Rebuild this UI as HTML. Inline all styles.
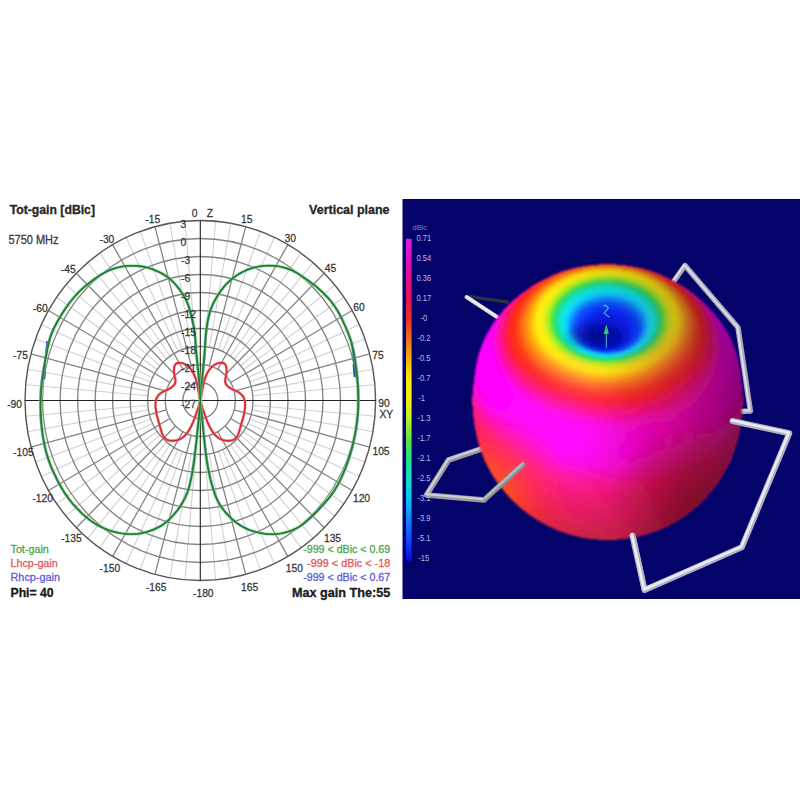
<!DOCTYPE html>
<html lang="en"><head><meta charset="utf-8"><title>Antenna radiation pattern</title>
<style>html,body{margin:0;padding:0;background:#fff}body{width:800px;height:800px;overflow:hidden}svg{display:block}</style></head>
<body>
<svg width="800" height="800" viewBox="0 0 800 800" style="display:block">
<defs><filter id="b1" x="-5%" y="-5%" width="110%" height="110%"><feGaussianBlur stdDeviation="1.3"/></filter>
<clipPath id="rimc"><ellipse cx="607.5" cy="320.5" rx="57.5" ry="42.0"/></clipPath>
<clipPath id="pan"><rect x="402.5" y="199" width="398" height="400"/></clipPath><clipPath id="sil"><ellipse cx="607.5" cy="502.7" rx="0.5" ry="0.3"/><ellipse cx="607.5" cy="502.3" rx="9.8" ry="6.8"/><ellipse cx="607.5" cy="501.6" rx="19.0" ry="13.1"/><ellipse cx="607.5" cy="500.5" rx="28.2" ry="19.5"/><ellipse cx="607.5" cy="498.8" rx="37.2" ry="25.7"/><ellipse cx="607.5" cy="496.7" rx="46.1" ry="31.8"/><ellipse cx="607.5" cy="494.1" rx="54.7" ry="37.8"/><ellipse cx="607.5" cy="491.1" rx="63.1" ry="43.5"/><ellipse cx="607.5" cy="487.7" rx="71.2" ry="49.1"/><ellipse cx="607.5" cy="483.9" rx="79.0" ry="54.5"/><ellipse cx="607.5" cy="479.7" rx="86.4" ry="59.6"/><ellipse cx="607.5" cy="475.2" rx="93.4" ry="64.4"/><ellipse cx="607.5" cy="470.3" rx="100.0" ry="69.0"/><ellipse cx="607.5" cy="465.1" rx="106.1" ry="73.2"/><ellipse cx="607.5" cy="459.5" rx="111.6" ry="77.0"/><ellipse cx="607.5" cy="453.7" rx="116.6" ry="80.5"/><ellipse cx="607.5" cy="447.6" rx="121.0" ry="83.5"/><ellipse cx="607.5" cy="441.3" rx="125.0" ry="86.2"/><ellipse cx="607.5" cy="434.8" rx="128.1" ry="88.4"/><ellipse cx="607.5" cy="428.1" rx="130.5" ry="90.0"/><ellipse cx="607.5" cy="421.3" rx="132.3" ry="91.3"/><ellipse cx="607.5" cy="414.5" rx="133.5" ry="92.1"/><ellipse cx="607.5" cy="407.6" rx="134.5" ry="92.8"/><ellipse cx="607.5" cy="400.7" rx="134.8" ry="93.0"/><ellipse cx="607.5" cy="394.1" rx="134.3" ry="93.0"/><ellipse cx="607.5" cy="387.4" rx="133.6" ry="92.7"/><ellipse cx="607.5" cy="380.8" rx="132.7" ry="92.4"/><ellipse cx="607.5" cy="374.2" rx="131.6" ry="91.9"/><ellipse cx="607.5" cy="367.8" rx="129.3" ry="90.6"/><ellipse cx="607.5" cy="361.5" rx="126.0" ry="88.6"/><ellipse cx="607.5" cy="355.6" rx="121.9" ry="86.0"/><ellipse cx="607.5" cy="350.0" rx="116.8" ry="82.7"/><ellipse cx="607.5" cy="344.6" rx="111.1" ry="78.9"/><ellipse cx="607.5" cy="339.4" rx="105.0" ry="74.7"/><ellipse cx="607.5" cy="334.6" rx="98.3" ry="70.0"/><ellipse cx="607.5" cy="330.2" rx="91.1" ry="65.1"/><ellipse cx="607.5" cy="326.2" rx="83.5" ry="59.8"/><ellipse cx="607.5" cy="323.3" rx="75.2" ry="54.1"/><ellipse cx="607.5" cy="321.3" rx="66.2" ry="47.9"/><ellipse cx="607.5" cy="320.5" rx="57.0" ry="41.5"/></clipPath><linearGradient id="cb" x1="0" y1="0" x2="0" y2="1"><stop offset="0.0000" stop-color="#d81ee8"/><stop offset="0.0625" stop-color="#e010c0"/><stop offset="0.1250" stop-color="#e80c84"/><stop offset="0.1875" stop-color="#ea1052"/><stop offset="0.2500" stop-color="#e83020"/><stop offset="0.3125" stop-color="#f0701a"/><stop offset="0.3750" stop-color="#f8b012"/><stop offset="0.4375" stop-color="#ffe80a"/><stop offset="0.5000" stop-color="#f0f210"/><stop offset="0.5625" stop-color="#b8f022"/><stop offset="0.6250" stop-color="#5ce444"/><stop offset="0.6875" stop-color="#22e088"/><stop offset="0.7500" stop-color="#10dcc8"/><stop offset="0.8125" stop-color="#10bcf4"/><stop offset="0.8750" stop-color="#1080ff"/><stop offset="0.9375" stop-color="#1044ff"/><stop offset="1.0000" stop-color="#0a0ae0"/></linearGradient><radialGradient id="hl" cx="556" cy="428" r="85" gradientUnits="userSpaceOnUse"><stop offset="0" stop-color="#ff30ff" stop-opacity="0.35"/><stop offset="1" stop-color="#ff30ff" stop-opacity="0"/></radialGradient>
<radialGradient id="sh" cx="480" cy="388" r="270" gradientUnits="userSpaceOnUse"><stop offset="0" stop-color="#200028" stop-opacity="0"/><stop offset="0.42" stop-color="#200028" stop-opacity="0"/><stop offset="0.6" stop-color="#200028" stop-opacity="0.08"/><stop offset="0.75" stop-color="#200028" stop-opacity="0.2"/><stop offset="0.9" stop-color="#200028" stop-opacity="0.4"/><stop offset="1" stop-color="#200028" stop-opacity="0.56"/></radialGradient>
<radialGradient id="cr" cx="705" cy="440" r="125" gradientUnits="userSpaceOnUse"><stop offset="0" stop-color="#e81048" stop-opacity="0.55"/><stop offset="0.5" stop-color="#e81050" stop-opacity="0.35"/><stop offset="1" stop-color="#e81060" stop-opacity="0"/></radialGradient>
<radialGradient id="og" cx="478" cy="497" r="92" gradientUnits="userSpaceOnUse"><stop offset="0" stop-color="#ff6212" stop-opacity="0.95"/><stop offset="0.38" stop-color="#ff5014" stop-opacity="0.8"/><stop offset="0.7" stop-color="#ff3820" stop-opacity="0.35"/><stop offset="1" stop-color="#ff2830" stop-opacity="0"/></radialGradient>
<radialGradient id="dr" cx="695" cy="508" r="85" gradientUnits="userSpaceOnUse"><stop offset="0" stop-color="#a01008" stop-opacity="0.65"/><stop offset="0.5" stop-color="#a81010" stop-opacity="0.4"/><stop offset="1" stop-color="#b01018" stop-opacity="0"/></radialGradient>
<radialGradient id="dk" cx=".5" cy=".5" r=".5"><stop offset="0" stop-color="#060668" stop-opacity="0.72"/><stop offset="0.5" stop-color="#060668" stop-opacity="0.42"/><stop offset="1" stop-color="#060668" stop-opacity="0"/></radialGradient>
<filter id="b04" x="0" y="0" width="100%" height="100%" filterUnits="userSpaceOnUse"><feGaussianBlur stdDeviation="0.4"/></filter></defs>
<rect width="800" height="800" fill="#fff"/>
<g id="polar" fill="none" filter="url(#b04)">
<path d="M204.9 346.7L215.6 221.2M209.4 347.3L230.7 223.2M218.3 349.8L260.3 231.4M222.5 351.6L274.4 237.4M230.5 356.3L300.8 253.1M234.1 359.1L313.0 262.6M240.6 365.8L334.6 284.8M243.4 369.5L343.9 297.3M248.0 377.7L359.2 324.4M249.7 382.0L365.0 338.9M252.1 391.1L372.9 369.2M252.7 395.8L374.9 384.8M252.7 405.2L374.9 416.2M252.1 409.9L372.9 431.8M249.7 419.0L365.0 462.1M248.0 423.3L359.2 476.6M243.4 431.5L343.9 503.7M240.6 435.2L334.6 516.2M234.1 441.9L313.0 538.4M230.5 444.7L300.8 547.9M222.5 449.4L274.4 563.6M218.3 451.2L260.3 569.6M209.4 453.7L230.7 577.8M204.9 454.3L215.6 579.8M195.7 454.3L185.0 579.8M191.2 453.7L169.9 577.8M182.3 451.2L140.3 569.6M178.1 449.4L126.2 563.6M170.1 444.7L99.8 547.9M166.5 441.9L87.6 538.4M160.0 435.2L66.0 516.2M157.2 431.5L56.7 503.7M152.6 423.3L41.4 476.6M150.9 419.0L35.6 462.1M148.5 409.9L27.7 431.8M147.9 405.2L25.7 416.2M147.9 395.8L25.7 384.8M148.5 391.1L27.7 369.2M150.9 382.0L35.6 338.9M152.6 377.7L41.4 324.4M157.2 369.5L56.7 297.3M160.0 365.8L66.0 284.8M166.5 359.1L87.6 262.6M170.1 356.3L99.8 253.1M178.1 351.6L126.2 237.4M182.3 349.8L140.3 231.4M191.2 347.3L169.9 223.2M195.7 346.7L185.0 221.2" stroke="#d0d0d0" stroke-width="1.1"/>
<path d="M209.4 365.7L245.7 226.6M217.8 369.3L287.9 244.6M225.1 375.0L324.3 273.2M230.7 382.5L352.1 310.5M234.2 391.2L369.6 353.9M234.2 409.8L369.6 447.1M230.7 418.5L352.1 490.5M225.1 426.0L324.3 527.8M217.8 431.7L287.9 556.4M209.4 435.3L245.7 574.4M191.2 435.3L154.9 574.4M182.8 431.7L112.6 556.4M175.5 426.0L76.3 527.8M169.9 418.5L48.5 490.5M166.4 409.8L31.0 447.1M166.4 391.2L31.0 353.9M169.9 382.5L48.5 310.5M175.5 375.0L76.3 273.2M182.8 369.3L112.6 244.6M191.2 365.7L154.9 226.6" stroke="#848484" stroke-width="1.3"/>
<ellipse cx="200.3" cy="400.5" rx="17.5" ry="18.0" stroke="#828282" stroke-width="1.3"/>
<ellipse cx="200.3" cy="400.5" rx="35.1" ry="36.0" stroke="#828282" stroke-width="1.3"/>
<ellipse cx="200.3" cy="400.5" rx="52.6" ry="54.0" stroke="#828282" stroke-width="1.3"/>
<ellipse cx="200.3" cy="400.5" rx="70.1" ry="72.0" stroke="#828282" stroke-width="1.3"/>
<ellipse cx="200.3" cy="400.5" rx="87.7" ry="90.0" stroke="#828282" stroke-width="1.3"/>
<ellipse cx="200.3" cy="400.5" rx="105.2" ry="108.0" stroke="#828282" stroke-width="1.3"/>
<ellipse cx="200.3" cy="400.5" rx="122.7" ry="126.0" stroke="#828282" stroke-width="1.3"/>
<ellipse cx="200.3" cy="400.5" rx="140.2" ry="144.0" stroke="#828282" stroke-width="1.3"/>
<ellipse cx="200.3" cy="400.5" rx="157.8" ry="162.0" stroke="#828282" stroke-width="1.3"/>
<ellipse cx="200.3" cy="400.5" rx="175.3" ry="180.0" stroke="#555" stroke-width="1.4"/>
<path d="M25.0 400.5H375.6M200.3 220.5V580.5" stroke="#222" stroke-width="1.1"/>
<path d="M200.3 400.5L200.5 398.0L200.7 395.6L200.8 393.1L201.0 390.7L201.2 388.3L201.4 385.8L201.6 383.4L201.8 380.9L202.0 378.5L202.2 376.0L202.4 373.6L202.7 371.1L202.9 368.7L203.1 366.2L203.4 363.8L203.6 361.3L203.8 358.9L204.0 356.4L204.3 354.0L204.4 351.5L204.6 349.1L204.8 346.6L204.9 344.2L205.1 341.7L205.2 339.3L205.4 336.8L205.6 334.4L205.9 332.0L206.2 329.5L206.5 327.1L206.9 324.7L207.3 322.2L207.8 319.8L208.3 317.4L208.9 315.0L209.5 312.6L210.3 310.3L211.1 308.0L212.0 305.7L213.0 303.4L214.1 301.2L215.3 299.1L216.5 297.0L217.9 294.9L219.2 292.9L220.6 290.8L222.1 288.9L223.6 286.9L225.2 285.1L226.9 283.3L228.7 281.6L230.5 280.0L232.4 278.4L234.4 276.9L236.4 275.5L238.5 274.2L240.6 272.9L242.8 271.8L245.0 270.7L247.2 269.7L249.6 268.9L251.9 268.1L254.3 267.4L256.7 266.9L259.1 266.4L261.5 266.1L264.0 265.8L266.4 265.7L268.9 265.6L271.3 265.7L273.8 265.8L276.2 266.1L278.7 266.4L281.1 266.9L283.5 267.5L285.9 268.2L288.2 269.0L290.5 269.9L292.7 270.9L294.9 272.0L297.0 273.2L299.1 274.5L301.2 275.9L303.2 277.3L305.2 278.7L307.3 280.0L309.3 281.5L311.3 282.9L313.2 284.3L315.2 285.9L317.0 287.5L318.9 289.1L320.7 290.8L322.5 292.5L324.2 294.2L325.9 295.9L327.6 297.7L329.3 299.6L330.8 301.4L332.3 303.4L333.8 305.4L335.2 307.4L336.5 309.5L337.8 311.6L339.0 313.7L340.1 315.9L341.2 318.1L342.3 320.3L343.3 322.5L344.3 324.8L345.4 327.0L346.3 329.3L347.3 331.5L348.2 333.8L349.0 336.1L349.8 338.4L350.6 340.8L351.3 343.1L351.9 345.5L352.5 347.9L353.1 350.3L353.6 352.7L354.0 355.1L354.4 357.5L354.8 360.0L355.2 362.4L355.5 364.8L355.9 367.3L356.2 369.7L356.5 372.1L356.7 374.6L357.0 377.0L357.2 379.5L357.4 381.9L357.6 384.4L357.7 386.8L357.9 389.3L358.0 391.7L358.0 394.2L358.1 396.6L358.1 399.1L358.1 401.6L358.0 404.0L358.0 406.5L357.9 408.9L357.7 411.4L357.6 413.8L357.4 416.3L357.1 418.7L356.9 421.2L356.6 423.6L356.2 426.0L355.9 428.5L355.5 430.9L355.0 433.3L354.6 435.7L354.1 438.1L353.6 440.5L353.0 442.9L352.5 445.3L351.9 447.7L351.2 450.1L350.5 452.4L349.8 454.8L349.1 457.1L348.3 459.5L347.6 461.8L346.7 464.1L345.9 466.4L345.0 468.7L344.0 471.0L343.1 473.2L342.1 475.5L341.1 477.7L340.0 480.0L338.9 482.2L337.8 484.3L336.6 486.5L335.3 488.6L334.0 490.7L332.6 492.7L331.2 494.7L329.7 496.7L328.2 498.6L326.6 500.5L325.0 502.3L323.4 504.2L321.7 506.0L320.0 507.8L318.4 509.6L316.7 511.4L315.0 513.1L313.2 514.9L311.5 516.6L309.7 518.3L307.9 519.9L306.0 521.5L304.1 523.1L302.1 524.6L300.1 526.0L298.0 527.3L295.8 528.5L293.6 529.5L291.4 530.5L289.0 531.3L286.7 532.0L284.3 532.7L281.9 533.2L279.5 533.6L277.0 533.9L274.6 534.2L272.1 534.3L269.7 534.2L267.2 534.1L264.8 533.8L262.3 533.4L259.9 533.0L257.5 532.4L255.1 531.8L252.7 531.1L250.4 530.4L248.1 529.5L245.9 528.5L243.6 527.4L241.5 526.2L239.4 524.9L237.4 523.6L235.4 522.1L233.5 520.5L231.6 518.9L229.9 517.2L228.1 515.5L226.5 513.7L224.8 511.8L223.3 509.9L221.8 507.9L220.4 505.9L219.1 503.8L217.9 501.7L216.8 499.5L215.8 497.2L214.9 494.9L214.1 492.6L213.3 490.3L212.6 487.9L211.9 485.6L211.2 483.2L210.6 480.8L210.0 478.4L209.5 476.0L209.0 473.6L208.5 471.2L208.0 468.8L207.6 466.4L207.2 464.0L206.8 461.6L206.4 459.1L206.1 456.7L205.7 454.3L205.4 451.8L205.1 449.4L204.8 446.9L204.5 444.5L204.3 442.1L204.0 439.6L203.7 437.2L203.5 434.7L203.2 432.3L203.0 429.9L202.8 427.4L202.5 425.0L202.3 422.5L202.1 420.1L201.8 417.6L201.6 415.2L201.4 412.7L201.2 410.3L200.9 407.8L200.7 405.4L200.5 402.9L200.3 400.5" stroke="#2a3f9a" stroke-width="1.8" stroke-linejoin="round" transform="translate(0.6,0)"/>
<path d="M200.3 400.5L200.2 397.7L200.1 395.0L199.9 392.2L199.8 389.4L199.6 386.7L199.5 383.9L199.3 381.2L199.1 378.4L198.9 375.7L198.6 372.9L198.3 370.2L198.0 367.4L197.8 364.7L197.5 361.9L197.2 359.2L196.9 356.4L196.6 353.7L196.4 350.9L196.2 348.1L196.0 345.4L195.8 342.6L195.6 339.9L195.4 337.1L195.1 334.3L194.8 331.6L194.4 328.9L193.9 326.2L193.3 323.5L192.7 320.8L192.1 318.1L191.4 315.4L190.7 312.7L190.0 310.0L189.2 307.3L188.3 304.7L187.3 302.2L186.1 299.7L184.8 297.2L183.4 294.9L181.9 292.6L180.3 290.3L178.6 288.0L176.9 285.9L175.1 283.7L173.2 281.7L171.2 279.8L169.1 278.0L166.9 276.4L164.6 274.9L162.2 273.5L159.7 272.2L157.2 271.1L154.6 270.0L152.0 269.0L149.4 268.1L146.7 267.4L144.0 266.8L141.3 266.3L138.5 266.0L135.8 265.8L133.0 265.8L130.2 265.8L127.5 265.9L124.7 266.2L122.0 266.6L119.3 267.2L116.6 267.9L113.9 268.7L111.3 269.6L108.8 270.7L106.3 271.9L103.8 273.2L101.4 274.6L99.1 276.0L96.8 277.6L94.5 279.1L92.3 280.8L90.1 282.4L87.9 284.1L85.8 285.9L83.7 287.7L81.6 289.6L79.6 291.5L77.7 293.5L75.8 295.5L74.0 297.6L72.2 299.7L70.5 301.9L68.8 304.1L67.2 306.4L65.7 308.6L64.1 310.9L62.6 313.3L61.2 315.6L59.8 318.0L58.3 320.4L57.0 322.8L55.7 325.3L54.4 327.7L53.2 330.2L52.2 332.8L51.2 335.3L50.3 338.0L49.6 340.6L48.9 343.3L48.3 346.0L47.7 348.7L47.2 351.4L46.7 354.2L46.1 356.9L45.6 359.6L45.1 362.3L44.6 365.1L44.2 367.8L43.7 370.5L43.3 373.2L42.9 376.0L42.5 378.7L42.1 381.4L41.8 384.2L41.6 386.9L41.3 389.7L41.1 392.5L41.0 395.2L40.9 398.0L40.8 400.7L40.7 403.5L40.7 406.3L40.8 409.0L40.9 411.8L41.0 414.6L41.1 417.3L41.3 420.1L41.5 422.8L41.8 425.6L42.1 428.3L42.4 431.1L42.8 433.8L43.2 436.6L43.7 439.3L44.2 442.0L44.7 444.7L45.3 447.4L45.9 450.1L46.6 452.8L47.4 455.5L48.2 458.1L49.1 460.7L50.0 463.3L51.0 465.9L52.1 468.5L53.2 471.0L54.4 473.5L55.6 476.0L56.8 478.5L58.0 481.0L59.3 483.4L60.7 485.8L62.0 488.2L63.5 490.6L64.9 493.0L66.5 495.2L68.1 497.5L69.7 499.7L71.5 501.9L73.2 504.0L75.1 506.1L76.9 508.1L78.9 510.1L80.8 512.1L82.8 514.0L84.9 515.8L87.0 517.6L89.2 519.3L91.4 521.0L93.7 522.5L96.0 524.0L98.4 525.4L100.9 526.7L103.4 527.9L105.9 529.0L108.5 530.0L111.1 530.9L113.8 531.7L116.4 532.3L119.2 532.9L121.9 533.4L124.6 533.7L127.4 534.0L130.2 534.1L132.9 534.1L135.7 534.0L138.5 533.7L141.2 533.3L143.9 532.7L146.6 532.0L149.2 531.2L151.8 530.3L154.4 529.3L156.9 528.1L159.4 526.9L161.8 525.5L164.1 523.9L166.3 522.2L168.4 520.4L170.4 518.5L172.3 516.5L174.2 514.5L176.0 512.3L177.7 510.2L179.3 508.0L180.9 505.7L182.3 503.3L183.7 500.9L185.0 498.4L186.2 495.9L187.2 493.4L188.2 490.8L189.0 488.2L189.8 485.5L190.4 482.8L191.0 480.1L191.6 477.4L192.1 474.7L192.6 471.9L193.0 469.2L193.5 466.5L193.9 463.7L194.3 461.0L194.6 458.3L195.0 455.5L195.3 452.8L195.6 450.0L196.0 447.3L196.3 444.5L196.6 441.8L196.9 439.0L197.1 436.3L197.4 433.5L197.7 430.8L198.0 428.0L198.3 425.3L198.6 422.5L198.9 419.8L199.1 417.0L199.4 414.3L199.6 411.5L199.8 408.8L200.0 406.0L200.1 403.3L200.3 400.5" stroke="#2a3f9a" stroke-width="1.8" stroke-linejoin="round" transform="translate(-0.6,0)"/>
<path d="M351.6 341L354.2 366L355 377M47.2 341L44.4 366L43.8 379" stroke="#27449f" stroke-width="1.6"/><path d="M354 364L355 377M44.6 365L43.9 379" stroke="#27449f" stroke-width="2.8"/>
<path d="M200.3 400.5L200.6 399.1L200.8 397.7L201.1 396.3L201.4 395.0L201.6 393.6L201.9 392.2L202.2 390.8L202.4 389.4L202.7 388.0L203.0 386.6L203.3 385.3L203.6 383.9L203.9 382.5L204.2 381.1L204.6 379.8L205.0 378.4L205.5 377.1L206.0 375.8L206.6 374.5L207.2 373.2L207.9 371.9L208.6 370.7L209.4 369.6L210.3 368.5L211.3 367.4L212.3 366.4L213.4 365.6L214.6 364.8L215.8 364.1L217.1 363.5L218.5 363.1L219.9 362.9L221.4 362.8L222.9 363.0L224.2 363.5L225.2 364.4L225.9 365.6L226.3 367.0L226.5 368.5L226.6 370.0L226.6 371.5L226.5 372.8L226.3 374.2L226.1 375.6L225.8 377.0L225.4 378.4L225.2 379.9L225.1 381.3L225.3 382.6L225.8 383.9L226.6 385.1L227.6 386.2L228.7 387.1L229.8 387.9L231.1 388.6L232.3 389.3L233.6 389.9L234.9 390.4L236.2 391.0L237.5 391.7L238.7 392.4L239.9 393.2L241.0 394.1L242.0 395.1L242.9 396.2L243.6 397.4L244.2 398.7L244.6 400.0L244.9 401.4L245.1 402.8L245.1 404.3L245.1 405.7L245.1 407.1L244.9 408.5L244.7 409.9L244.5 411.3L244.3 412.7L244.0 414.1L243.7 415.4L243.3 416.8L243.0 418.2L242.6 419.6L242.2 420.9L241.8 422.3L241.4 423.6L241.0 425.0L240.7 426.3L240.3 427.7L239.9 429.1L239.5 430.4L239.1 431.8L238.7 433.1L238.1 434.4L237.5 435.7L236.7 436.9L235.8 438.0L234.8 439.0L233.6 439.8L232.3 440.3L230.9 440.6L229.5 440.7L228.0 440.8L226.6 440.7L225.1 440.5L223.8 440.2L222.4 439.8L221.1 439.3L219.8 438.7L218.6 438.0L217.4 437.1L216.4 436.2L215.3 435.2L214.4 434.2L213.5 433.1L212.7 431.9L211.9 430.7L211.2 429.5L210.5 428.3L209.8 427.0L209.2 425.8L208.6 424.5L208.0 423.2L207.4 421.9L206.9 420.6L206.4 419.3L205.9 418.0L205.4 416.6L205.0 415.3L204.5 414.0L204.1 412.6L203.6 411.3L203.1 410.0L202.7 408.6L202.2 407.3L201.8 405.9L201.4 404.6L201.0 403.2L200.7 401.9L200.3 400.5" stroke="#f28a8a" stroke-width="3.2" stroke-linejoin="round" opacity=".5"/>
<path d="M200.3 400.5L200.6 399.1L200.8 397.7L201.1 396.3L201.4 395.0L201.6 393.6L201.9 392.2L202.2 390.8L202.4 389.4L202.7 388.0L203.0 386.6L203.3 385.3L203.6 383.9L203.9 382.5L204.2 381.1L204.6 379.8L205.0 378.4L205.5 377.1L206.0 375.8L206.6 374.5L207.2 373.2L207.9 371.9L208.6 370.7L209.4 369.6L210.3 368.5L211.3 367.4L212.3 366.4L213.4 365.6L214.6 364.8L215.8 364.1L217.1 363.5L218.5 363.1L219.9 362.9L221.4 362.8L222.9 363.0L224.2 363.5L225.2 364.4L225.9 365.6L226.3 367.0L226.5 368.5L226.6 370.0L226.6 371.5L226.5 372.8L226.3 374.2L226.1 375.6L225.8 377.0L225.4 378.4L225.2 379.9L225.1 381.3L225.3 382.6L225.8 383.9L226.6 385.1L227.6 386.2L228.7 387.1L229.8 387.9L231.1 388.6L232.3 389.3L233.6 389.9L234.9 390.4L236.2 391.0L237.5 391.7L238.7 392.4L239.9 393.2L241.0 394.1L242.0 395.1L242.9 396.2L243.6 397.4L244.2 398.7L244.6 400.0L244.9 401.4L245.1 402.8L245.1 404.3L245.1 405.7L245.1 407.1L244.9 408.5L244.7 409.9L244.5 411.3L244.3 412.7L244.0 414.1L243.7 415.4L243.3 416.8L243.0 418.2L242.6 419.6L242.2 420.9L241.8 422.3L241.4 423.6L241.0 425.0L240.7 426.3L240.3 427.7L239.9 429.1L239.5 430.4L239.1 431.8L238.7 433.1L238.1 434.4L237.5 435.7L236.7 436.9L235.8 438.0L234.8 439.0L233.6 439.8L232.3 440.3L230.9 440.6L229.5 440.7L228.0 440.8L226.6 440.7L225.1 440.5L223.8 440.2L222.4 439.8L221.1 439.3L219.8 438.7L218.6 438.0L217.4 437.1L216.4 436.2L215.3 435.2L214.4 434.2L213.5 433.1L212.7 431.9L211.9 430.7L211.2 429.5L210.5 428.3L209.8 427.0L209.2 425.8L208.6 424.5L208.0 423.2L207.4 421.9L206.9 420.6L206.4 419.3L205.9 418.0L205.4 416.6L205.0 415.3L204.5 414.0L204.1 412.6L203.6 411.3L203.1 410.0L202.7 408.6L202.2 407.3L201.8 405.9L201.4 404.6L201.0 403.2L200.7 401.9L200.3 400.5" stroke="#dc2c3a" stroke-width="1.9" stroke-linejoin="round"/>
<path d="M200.3 400.5L200.0 399.1L199.8 397.7L199.5 396.3L199.2 395.0L199.0 393.6L198.7 392.2L198.4 390.8L198.2 389.4L197.9 388.0L197.6 386.6L197.3 385.3L197.0 383.9L196.7 382.5L196.4 381.1L196.0 379.8L195.6 378.4L195.1 377.1L194.6 375.8L194.0 374.5L193.4 373.2L192.7 371.9L192.0 370.7L191.2 369.6L190.3 368.5L189.3 367.4L188.3 366.4L187.2 365.6L186.0 364.8L184.8 364.1L183.5 363.5L182.1 363.1L180.7 362.9L179.2 362.8L177.7 363.0L176.4 363.5L175.4 364.4L174.7 365.6L174.3 367.0L174.1 368.5L174.0 370.0L174.0 371.5L174.1 372.8L174.3 374.2L174.5 375.6L174.8 377.0L175.2 378.4L175.4 379.9L175.5 381.3L175.3 382.6L174.8 383.9L174.0 385.1L173.0 386.2L171.9 387.1L170.8 387.9L169.5 388.6L168.3 389.3L167.0 389.9L165.7 390.4L164.4 391.0L163.1 391.7L161.9 392.4L160.7 393.2L159.6 394.1L158.6 395.1L157.7 396.2L157.0 397.4L156.4 398.7L156.0 400.0L155.7 401.4L155.5 402.8L155.5 404.3L155.5 405.7L155.5 407.1L155.7 408.5L155.9 409.9L156.1 411.3L156.3 412.7L156.6 414.1L156.9 415.4L157.3 416.8L157.6 418.2L158.0 419.6L158.4 420.9L158.8 422.3L159.2 423.6L159.6 425.0L159.9 426.3L160.3 427.7L160.7 429.1L161.1 430.4L161.5 431.8L161.9 433.1L162.5 434.4L163.1 435.7L163.9 436.9L164.8 438.0L165.8 439.0L167.0 439.8L168.3 440.3L169.7 440.6L171.1 440.7L172.6 440.8L174.0 440.7L175.5 440.5L176.8 440.2L178.2 439.8L179.5 439.3L180.8 438.7L182.0 438.0L183.2 437.1L184.2 436.2L185.3 435.2L186.2 434.2L187.1 433.1L187.9 431.9L188.7 430.7L189.4 429.5L190.1 428.3L190.8 427.0L191.4 425.8L192.0 424.5L192.6 423.2L193.2 421.9L193.7 420.6L194.2 419.3L194.7 418.0L195.2 416.6L195.6 415.3L196.1 414.0L196.5 412.6L197.0 411.3L197.5 410.0L197.9 408.6L198.4 407.3L198.8 405.9L199.2 404.6L199.6 403.2L199.9 401.9L200.3 400.5" stroke="#f28a8a" stroke-width="3.2" stroke-linejoin="round" opacity=".5"/>
<path d="M200.3 400.5L200.0 399.1L199.8 397.7L199.5 396.3L199.2 395.0L199.0 393.6L198.7 392.2L198.4 390.8L198.2 389.4L197.9 388.0L197.6 386.6L197.3 385.3L197.0 383.9L196.7 382.5L196.4 381.1L196.0 379.8L195.6 378.4L195.1 377.1L194.6 375.8L194.0 374.5L193.4 373.2L192.7 371.9L192.0 370.7L191.2 369.6L190.3 368.5L189.3 367.4L188.3 366.4L187.2 365.6L186.0 364.8L184.8 364.1L183.5 363.5L182.1 363.1L180.7 362.9L179.2 362.8L177.7 363.0L176.4 363.5L175.4 364.4L174.7 365.6L174.3 367.0L174.1 368.5L174.0 370.0L174.0 371.5L174.1 372.8L174.3 374.2L174.5 375.6L174.8 377.0L175.2 378.4L175.4 379.9L175.5 381.3L175.3 382.6L174.8 383.9L174.0 385.1L173.0 386.2L171.9 387.1L170.8 387.9L169.5 388.6L168.3 389.3L167.0 389.9L165.7 390.4L164.4 391.0L163.1 391.7L161.9 392.4L160.7 393.2L159.6 394.1L158.6 395.1L157.7 396.2L157.0 397.4L156.4 398.7L156.0 400.0L155.7 401.4L155.5 402.8L155.5 404.3L155.5 405.7L155.5 407.1L155.7 408.5L155.9 409.9L156.1 411.3L156.3 412.7L156.6 414.1L156.9 415.4L157.3 416.8L157.6 418.2L158.0 419.6L158.4 420.9L158.8 422.3L159.2 423.6L159.6 425.0L159.9 426.3L160.3 427.7L160.7 429.1L161.1 430.4L161.5 431.8L161.9 433.1L162.5 434.4L163.1 435.7L163.9 436.9L164.8 438.0L165.8 439.0L167.0 439.8L168.3 440.3L169.7 440.6L171.1 440.7L172.6 440.8L174.0 440.7L175.5 440.5L176.8 440.2L178.2 439.8L179.5 439.3L180.8 438.7L182.0 438.0L183.2 437.1L184.2 436.2L185.3 435.2L186.2 434.2L187.1 433.1L187.9 431.9L188.7 430.7L189.4 429.5L190.1 428.3L190.8 427.0L191.4 425.8L192.0 424.5L192.6 423.2L193.2 421.9L193.7 420.6L194.2 419.3L194.7 418.0L195.2 416.6L195.6 415.3L196.1 414.0L196.5 412.6L197.0 411.3L197.5 410.0L197.9 408.6L198.4 407.3L198.8 405.9L199.2 404.6L199.6 403.2L199.9 401.9L200.3 400.5" stroke="#dc2c3a" stroke-width="1.9" stroke-linejoin="round"/>
<path d="M200.3 400.5L200.5 398.0L200.7 395.6L200.8 393.1L201.0 390.7L201.2 388.3L201.4 385.8L201.6 383.4L201.8 380.9L202.0 378.5L202.2 376.0L202.4 373.6L202.7 371.1L202.9 368.7L203.1 366.2L203.4 363.8L203.6 361.3L203.8 358.9L204.0 356.4L204.3 354.0L204.4 351.5L204.6 349.1L204.8 346.6L204.9 344.2L205.1 341.7L205.2 339.3L205.4 336.8L205.6 334.4L205.9 332.0L206.2 329.5L206.5 327.1L206.9 324.7L207.3 322.2L207.8 319.8L208.3 317.4L208.9 315.0L209.5 312.6L210.3 310.3L211.1 308.0L212.0 305.7L213.0 303.4L214.1 301.2L215.3 299.1L216.5 297.0L217.9 294.9L219.2 292.9L220.6 290.8L222.1 288.9L223.6 286.9L225.2 285.1L226.9 283.3L228.7 281.6L230.5 280.0L232.4 278.4L234.4 276.9L236.4 275.5L238.5 274.2L240.6 272.9L242.8 271.8L245.0 270.7L247.2 269.7L249.6 268.9L251.9 268.1L254.3 267.4L256.7 266.9L259.1 266.4L261.5 266.1L264.0 265.8L266.4 265.7L268.9 265.6L271.3 265.7L273.8 265.8L276.2 266.1L278.7 266.4L281.1 266.9L283.5 267.5L285.9 268.2L288.2 269.0L290.5 269.9L292.7 270.9L294.9 272.0L297.0 273.2L299.1 274.5L301.2 275.9L303.2 277.3L305.2 278.7L307.3 280.0L309.3 281.5L311.3 282.9L313.2 284.3L315.2 285.9L317.0 287.5L318.9 289.1L320.7 290.8L322.5 292.5L324.2 294.2L325.9 295.9L327.6 297.7L329.3 299.6L330.8 301.4L332.3 303.4L333.8 305.4L335.2 307.4L336.5 309.5L337.8 311.6L339.0 313.7L340.1 315.9L341.2 318.1L342.3 320.3L343.3 322.5L344.3 324.8L345.4 327.0L346.3 329.3L347.3 331.5L348.2 333.8L349.0 336.1L349.8 338.4L350.6 340.8L351.3 343.1L351.9 345.5L352.5 347.9L353.1 350.3L353.6 352.7L354.0 355.1L354.4 357.5L354.8 360.0L355.2 362.4L355.5 364.8L355.9 367.3L356.2 369.7L356.5 372.1L356.7 374.6L357.0 377.0L357.2 379.5L357.4 381.9L357.6 384.4L357.7 386.8L357.9 389.3L358.0 391.7L358.0 394.2L358.1 396.6L358.1 399.1L358.1 401.6L358.0 404.0L358.0 406.5L357.9 408.9L357.7 411.4L357.6 413.8L357.4 416.3L357.1 418.7L356.9 421.2L356.6 423.6L356.2 426.0L355.9 428.5L355.5 430.9L355.0 433.3L354.6 435.7L354.1 438.1L353.6 440.5L353.0 442.9L352.5 445.3L351.9 447.7L351.2 450.1L350.5 452.4L349.8 454.8L349.1 457.1L348.3 459.5L347.6 461.8L346.7 464.1L345.9 466.4L345.0 468.7L344.0 471.0L343.1 473.2L342.1 475.5L341.1 477.7L340.0 480.0L338.9 482.2L337.8 484.3L336.6 486.5L335.3 488.6L334.0 490.7L332.6 492.7L331.2 494.7L329.7 496.7L328.2 498.6L326.6 500.5L325.0 502.3L323.4 504.2L321.7 506.0L320.0 507.8L318.4 509.6L316.7 511.4L315.0 513.1L313.2 514.9L311.5 516.6L309.7 518.3L307.9 519.9L306.0 521.5L304.1 523.1L302.1 524.6L300.1 526.0L298.0 527.3L295.8 528.5L293.6 529.5L291.4 530.5L289.0 531.3L286.7 532.0L284.3 532.7L281.9 533.2L279.5 533.6L277.0 533.9L274.6 534.2L272.1 534.3L269.7 534.2L267.2 534.1L264.8 533.8L262.3 533.4L259.9 533.0L257.5 532.4L255.1 531.8L252.7 531.1L250.4 530.4L248.1 529.5L245.9 528.5L243.6 527.4L241.5 526.2L239.4 524.9L237.4 523.6L235.4 522.1L233.5 520.5L231.6 518.9L229.9 517.2L228.1 515.5L226.5 513.7L224.8 511.8L223.3 509.9L221.8 507.9L220.4 505.9L219.1 503.8L217.9 501.7L216.8 499.5L215.8 497.2L214.9 494.9L214.1 492.6L213.3 490.3L212.6 487.9L211.9 485.6L211.2 483.2L210.6 480.8L210.0 478.4L209.5 476.0L209.0 473.6L208.5 471.2L208.0 468.8L207.6 466.4L207.2 464.0L206.8 461.6L206.4 459.1L206.1 456.7L205.7 454.3L205.4 451.8L205.1 449.4L204.8 446.9L204.5 444.5L204.3 442.1L204.0 439.6L203.7 437.2L203.5 434.7L203.2 432.3L203.0 429.9L202.8 427.4L202.5 425.0L202.3 422.5L202.1 420.1L201.8 417.6L201.6 415.2L201.4 412.7L201.2 410.3L200.9 407.8L200.7 405.4L200.5 402.9L200.3 400.5" stroke="#7fe27f" stroke-width="3.6" stroke-linejoin="round" opacity=".5"/>
<path d="M200.3 400.5L200.5 398.0L200.7 395.6L200.8 393.1L201.0 390.7L201.2 388.3L201.4 385.8L201.6 383.4L201.8 380.9L202.0 378.5L202.2 376.0L202.4 373.6L202.7 371.1L202.9 368.7L203.1 366.2L203.4 363.8L203.6 361.3L203.8 358.9L204.0 356.4L204.3 354.0L204.4 351.5L204.6 349.1L204.8 346.6L204.9 344.2L205.1 341.7L205.2 339.3L205.4 336.8L205.6 334.4L205.9 332.0L206.2 329.5L206.5 327.1L206.9 324.7L207.3 322.2L207.8 319.8L208.3 317.4L208.9 315.0L209.5 312.6L210.3 310.3L211.1 308.0L212.0 305.7L213.0 303.4L214.1 301.2L215.3 299.1L216.5 297.0L217.9 294.9L219.2 292.9L220.6 290.8L222.1 288.9L223.6 286.9L225.2 285.1L226.9 283.3L228.7 281.6L230.5 280.0L232.4 278.4L234.4 276.9L236.4 275.5L238.5 274.2L240.6 272.9L242.8 271.8L245.0 270.7L247.2 269.7L249.6 268.9L251.9 268.1L254.3 267.4L256.7 266.9L259.1 266.4L261.5 266.1L264.0 265.8L266.4 265.7L268.9 265.6L271.3 265.7L273.8 265.8L276.2 266.1L278.7 266.4L281.1 266.9L283.5 267.5L285.9 268.2L288.2 269.0L290.5 269.9L292.7 270.9L294.9 272.0L297.0 273.2L299.1 274.5L301.2 275.9L303.2 277.3L305.2 278.7L307.3 280.0L309.3 281.5L311.3 282.9L313.2 284.3L315.2 285.9L317.0 287.5L318.9 289.1L320.7 290.8L322.5 292.5L324.2 294.2L325.9 295.9L327.6 297.7L329.3 299.6L330.8 301.4L332.3 303.4L333.8 305.4L335.2 307.4L336.5 309.5L337.8 311.6L339.0 313.7L340.1 315.9L341.2 318.1L342.3 320.3L343.3 322.5L344.3 324.8L345.4 327.0L346.3 329.3L347.3 331.5L348.2 333.8L349.0 336.1L349.8 338.4L350.6 340.8L351.3 343.1L351.9 345.5L352.5 347.9L353.1 350.3L353.6 352.7L354.0 355.1L354.4 357.5L354.8 360.0L355.2 362.4L355.5 364.8L355.9 367.3L356.2 369.7L356.5 372.1L356.7 374.6L357.0 377.0L357.2 379.5L357.4 381.9L357.6 384.4L357.7 386.8L357.9 389.3L358.0 391.7L358.0 394.2L358.1 396.6L358.1 399.1L358.1 401.6L358.0 404.0L358.0 406.5L357.9 408.9L357.7 411.4L357.6 413.8L357.4 416.3L357.1 418.7L356.9 421.2L356.6 423.6L356.2 426.0L355.9 428.5L355.5 430.9L355.0 433.3L354.6 435.7L354.1 438.1L353.6 440.5L353.0 442.9L352.5 445.3L351.9 447.7L351.2 450.1L350.5 452.4L349.8 454.8L349.1 457.1L348.3 459.5L347.6 461.8L346.7 464.1L345.9 466.4L345.0 468.7L344.0 471.0L343.1 473.2L342.1 475.5L341.1 477.7L340.0 480.0L338.9 482.2L337.8 484.3L336.6 486.5L335.3 488.6L334.0 490.7L332.6 492.7L331.2 494.7L329.7 496.7L328.2 498.6L326.6 500.5L325.0 502.3L323.4 504.2L321.7 506.0L320.0 507.8L318.4 509.6L316.7 511.4L315.0 513.1L313.2 514.9L311.5 516.6L309.7 518.3L307.9 519.9L306.0 521.5L304.1 523.1L302.1 524.6L300.1 526.0L298.0 527.3L295.8 528.5L293.6 529.5L291.4 530.5L289.0 531.3L286.7 532.0L284.3 532.7L281.9 533.2L279.5 533.6L277.0 533.9L274.6 534.2L272.1 534.3L269.7 534.2L267.2 534.1L264.8 533.8L262.3 533.4L259.9 533.0L257.5 532.4L255.1 531.8L252.7 531.1L250.4 530.4L248.1 529.5L245.9 528.5L243.6 527.4L241.5 526.2L239.4 524.9L237.4 523.6L235.4 522.1L233.5 520.5L231.6 518.9L229.9 517.2L228.1 515.5L226.5 513.7L224.8 511.8L223.3 509.9L221.8 507.9L220.4 505.9L219.1 503.8L217.9 501.7L216.8 499.5L215.8 497.2L214.9 494.9L214.1 492.6L213.3 490.3L212.6 487.9L211.9 485.6L211.2 483.2L210.6 480.8L210.0 478.4L209.5 476.0L209.0 473.6L208.5 471.2L208.0 468.8L207.6 466.4L207.2 464.0L206.8 461.6L206.4 459.1L206.1 456.7L205.7 454.3L205.4 451.8L205.1 449.4L204.8 446.9L204.5 444.5L204.3 442.1L204.0 439.6L203.7 437.2L203.5 434.7L203.2 432.3L203.0 429.9L202.8 427.4L202.5 425.0L202.3 422.5L202.1 420.1L201.8 417.6L201.6 415.2L201.4 412.7L201.2 410.3L200.9 407.8L200.7 405.4L200.5 402.9L200.3 400.5" stroke="#1f7a2c" stroke-width="1.45" stroke-linejoin="round"/>
<path d="M200.3 400.5L200.2 397.7L200.1 395.0L199.9 392.2L199.8 389.4L199.6 386.7L199.5 383.9L199.3 381.2L199.1 378.4L198.9 375.7L198.6 372.9L198.3 370.2L198.0 367.4L197.8 364.7L197.5 361.9L197.2 359.2L196.9 356.4L196.6 353.7L196.4 350.9L196.2 348.1L196.0 345.4L195.8 342.6L195.6 339.9L195.4 337.1L195.1 334.3L194.8 331.6L194.4 328.9L193.9 326.2L193.3 323.5L192.7 320.8L192.1 318.1L191.4 315.4L190.7 312.7L190.0 310.0L189.2 307.3L188.3 304.7L187.3 302.2L186.1 299.7L184.8 297.2L183.4 294.9L181.9 292.6L180.3 290.3L178.6 288.0L176.9 285.9L175.1 283.7L173.2 281.7L171.2 279.8L169.1 278.0L166.9 276.4L164.6 274.9L162.2 273.5L159.7 272.2L157.2 271.1L154.6 270.0L152.0 269.0L149.4 268.1L146.7 267.4L144.0 266.8L141.3 266.3L138.5 266.0L135.8 265.8L133.0 265.8L130.2 265.8L127.5 265.9L124.7 266.2L122.0 266.6L119.3 267.2L116.6 267.9L113.9 268.7L111.3 269.6L108.8 270.7L106.3 271.9L103.8 273.2L101.4 274.6L99.1 276.0L96.8 277.6L94.5 279.1L92.3 280.8L90.1 282.4L87.9 284.1L85.8 285.9L83.7 287.7L81.6 289.6L79.6 291.5L77.7 293.5L75.8 295.5L74.0 297.6L72.2 299.7L70.5 301.9L68.8 304.1L67.2 306.4L65.7 308.6L64.1 310.9L62.6 313.3L61.2 315.6L59.8 318.0L58.3 320.4L57.0 322.8L55.7 325.3L54.4 327.7L53.2 330.2L52.2 332.8L51.2 335.3L50.3 338.0L49.6 340.6L48.9 343.3L48.3 346.0L47.7 348.7L47.2 351.4L46.7 354.2L46.1 356.9L45.6 359.6L45.1 362.3L44.6 365.1L44.2 367.8L43.7 370.5L43.3 373.2L42.9 376.0L42.5 378.7L42.1 381.4L41.8 384.2L41.6 386.9L41.3 389.7L41.1 392.5L41.0 395.2L40.9 398.0L40.8 400.7L40.7 403.5L40.7 406.3L40.8 409.0L40.9 411.8L41.0 414.6L41.1 417.3L41.3 420.1L41.5 422.8L41.8 425.6L42.1 428.3L42.4 431.1L42.8 433.8L43.2 436.6L43.7 439.3L44.2 442.0L44.7 444.7L45.3 447.4L45.9 450.1L46.6 452.8L47.4 455.5L48.2 458.1L49.1 460.7L50.0 463.3L51.0 465.9L52.1 468.5L53.2 471.0L54.4 473.5L55.6 476.0L56.8 478.5L58.0 481.0L59.3 483.4L60.7 485.8L62.0 488.2L63.5 490.6L64.9 493.0L66.5 495.2L68.1 497.5L69.7 499.7L71.5 501.9L73.2 504.0L75.1 506.1L76.9 508.1L78.9 510.1L80.8 512.1L82.8 514.0L84.9 515.8L87.0 517.6L89.2 519.3L91.4 521.0L93.7 522.5L96.0 524.0L98.4 525.4L100.9 526.7L103.4 527.9L105.9 529.0L108.5 530.0L111.1 530.9L113.8 531.7L116.4 532.3L119.2 532.9L121.9 533.4L124.6 533.7L127.4 534.0L130.2 534.1L132.9 534.1L135.7 534.0L138.5 533.7L141.2 533.3L143.9 532.7L146.6 532.0L149.2 531.2L151.8 530.3L154.4 529.3L156.9 528.1L159.4 526.9L161.8 525.5L164.1 523.9L166.3 522.2L168.4 520.4L170.4 518.5L172.3 516.5L174.2 514.5L176.0 512.3L177.7 510.2L179.3 508.0L180.9 505.7L182.3 503.3L183.7 500.9L185.0 498.4L186.2 495.9L187.2 493.4L188.2 490.8L189.0 488.2L189.8 485.5L190.4 482.8L191.0 480.1L191.6 477.4L192.1 474.7L192.6 471.9L193.0 469.2L193.5 466.5L193.9 463.7L194.3 461.0L194.6 458.3L195.0 455.5L195.3 452.8L195.6 450.0L196.0 447.3L196.3 444.5L196.6 441.8L196.9 439.0L197.1 436.3L197.4 433.5L197.7 430.8L198.0 428.0L198.3 425.3L198.6 422.5L198.9 419.8L199.1 417.0L199.4 414.3L199.6 411.5L199.8 408.8L200.0 406.0L200.1 403.3L200.3 400.5" stroke="#7fe27f" stroke-width="3.6" stroke-linejoin="round" opacity=".5"/>
<path d="M200.3 400.5L200.2 397.7L200.1 395.0L199.9 392.2L199.8 389.4L199.6 386.7L199.5 383.9L199.3 381.2L199.1 378.4L198.9 375.7L198.6 372.9L198.3 370.2L198.0 367.4L197.8 364.7L197.5 361.9L197.2 359.2L196.9 356.4L196.6 353.7L196.4 350.9L196.2 348.1L196.0 345.4L195.8 342.6L195.6 339.9L195.4 337.1L195.1 334.3L194.8 331.6L194.4 328.9L193.9 326.2L193.3 323.5L192.7 320.8L192.1 318.1L191.4 315.4L190.7 312.7L190.0 310.0L189.2 307.3L188.3 304.7L187.3 302.2L186.1 299.7L184.8 297.2L183.4 294.9L181.9 292.6L180.3 290.3L178.6 288.0L176.9 285.9L175.1 283.7L173.2 281.7L171.2 279.8L169.1 278.0L166.9 276.4L164.6 274.9L162.2 273.5L159.7 272.2L157.2 271.1L154.6 270.0L152.0 269.0L149.4 268.1L146.7 267.4L144.0 266.8L141.3 266.3L138.5 266.0L135.8 265.8L133.0 265.8L130.2 265.8L127.5 265.9L124.7 266.2L122.0 266.6L119.3 267.2L116.6 267.9L113.9 268.7L111.3 269.6L108.8 270.7L106.3 271.9L103.8 273.2L101.4 274.6L99.1 276.0L96.8 277.6L94.5 279.1L92.3 280.8L90.1 282.4L87.9 284.1L85.8 285.9L83.7 287.7L81.6 289.6L79.6 291.5L77.7 293.5L75.8 295.5L74.0 297.6L72.2 299.7L70.5 301.9L68.8 304.1L67.2 306.4L65.7 308.6L64.1 310.9L62.6 313.3L61.2 315.6L59.8 318.0L58.3 320.4L57.0 322.8L55.7 325.3L54.4 327.7L53.2 330.2L52.2 332.8L51.2 335.3L50.3 338.0L49.6 340.6L48.9 343.3L48.3 346.0L47.7 348.7L47.2 351.4L46.7 354.2L46.1 356.9L45.6 359.6L45.1 362.3L44.6 365.1L44.2 367.8L43.7 370.5L43.3 373.2L42.9 376.0L42.5 378.7L42.1 381.4L41.8 384.2L41.6 386.9L41.3 389.7L41.1 392.5L41.0 395.2L40.9 398.0L40.8 400.7L40.7 403.5L40.7 406.3L40.8 409.0L40.9 411.8L41.0 414.6L41.1 417.3L41.3 420.1L41.5 422.8L41.8 425.6L42.1 428.3L42.4 431.1L42.8 433.8L43.2 436.6L43.7 439.3L44.2 442.0L44.7 444.7L45.3 447.4L45.9 450.1L46.6 452.8L47.4 455.5L48.2 458.1L49.1 460.7L50.0 463.3L51.0 465.9L52.1 468.5L53.2 471.0L54.4 473.5L55.6 476.0L56.8 478.5L58.0 481.0L59.3 483.4L60.7 485.8L62.0 488.2L63.5 490.6L64.9 493.0L66.5 495.2L68.1 497.5L69.7 499.7L71.5 501.9L73.2 504.0L75.1 506.1L76.9 508.1L78.9 510.1L80.8 512.1L82.8 514.0L84.9 515.8L87.0 517.6L89.2 519.3L91.4 521.0L93.7 522.5L96.0 524.0L98.4 525.4L100.9 526.7L103.4 527.9L105.9 529.0L108.5 530.0L111.1 530.9L113.8 531.7L116.4 532.3L119.2 532.9L121.9 533.4L124.6 533.7L127.4 534.0L130.2 534.1L132.9 534.1L135.7 534.0L138.5 533.7L141.2 533.3L143.9 532.7L146.6 532.0L149.2 531.2L151.8 530.3L154.4 529.3L156.9 528.1L159.4 526.9L161.8 525.5L164.1 523.9L166.3 522.2L168.4 520.4L170.4 518.5L172.3 516.5L174.2 514.5L176.0 512.3L177.7 510.2L179.3 508.0L180.9 505.7L182.3 503.3L183.7 500.9L185.0 498.4L186.2 495.9L187.2 493.4L188.2 490.8L189.0 488.2L189.8 485.5L190.4 482.8L191.0 480.1L191.6 477.4L192.1 474.7L192.6 471.9L193.0 469.2L193.5 466.5L193.9 463.7L194.3 461.0L194.6 458.3L195.0 455.5L195.3 452.8L195.6 450.0L196.0 447.3L196.3 444.5L196.6 441.8L196.9 439.0L197.1 436.3L197.4 433.5L197.7 430.8L198.0 428.0L198.3 425.3L198.6 422.5L198.9 419.8L199.1 417.0L199.4 414.3L199.6 411.5L199.8 408.8L200.0 406.0L200.1 403.3L200.3 400.5" stroke="#1f7a2c" stroke-width="1.45" stroke-linejoin="round"/>
</g>
<g font-family='"Liberation Sans", Arial, sans-serif'>
<text x="9.7" y="213.7" font-size="12" text-anchor="start" fill="#262626" stroke="#262626" stroke-width=".3" font-weight="bold" textLength="85.3" lengthAdjust="spacingAndGlyphs">Tot-gain [dBic]</text>
<text x="389.5" y="213.7" font-size="12" text-anchor="end" fill="#262626" stroke="#262626" stroke-width=".3" font-weight="bold" textLength="80.4" lengthAdjust="spacingAndGlyphs">Vertical plane</text>
<text x="8.5" y="243.7" font-size="12" text-anchor="start" fill="#3a3a3a" stroke="#3a3a3a" stroke-width=".3" textLength="50" lengthAdjust="spacingAndGlyphs">5750 MHz</text>
<text transform="translate(194.7 216.7) scale(0.92 1)" font-size="11.2" text-anchor="middle" fill="#333" stroke="#333" stroke-width=".25">0</text>
<text transform="translate(210 216.7) scale(0.92 1)" font-size="11.2" text-anchor="middle" fill="#333" stroke="#333" stroke-width=".25">Z</text>
<text transform="translate(152.7 223.2) scale(0.92 1)" font-size="11.2" text-anchor="middle" fill="#333" stroke="#333" stroke-width=".25">-15</text>
<text transform="translate(246.8 223.2) scale(0.92 1)" font-size="11.2" text-anchor="middle" fill="#333" stroke="#333" stroke-width=".25">15</text>
<text transform="translate(106.9 242.5) scale(0.92 1)" font-size="11.2" text-anchor="middle" fill="#333" stroke="#333" stroke-width=".25">-30</text>
<text transform="translate(290.2 242.0) scale(0.92 1)" font-size="11.2" text-anchor="middle" fill="#333" stroke="#333" stroke-width=".25">30</text>
<text transform="translate(68.3 272.5) scale(0.92 1)" font-size="11.2" text-anchor="middle" fill="#333" stroke="#333" stroke-width=".25">-45</text>
<text transform="translate(330.4 272.0) scale(0.92 1)" font-size="11.2" text-anchor="middle" fill="#333" stroke="#333" stroke-width=".25">45</text>
<text transform="translate(40.3 311.5) scale(0.92 1)" font-size="11.2" text-anchor="middle" fill="#333" stroke="#333" stroke-width=".25">-60</text>
<text transform="translate(359 311.0) scale(0.92 1)" font-size="11.2" text-anchor="middle" fill="#333" stroke="#333" stroke-width=".25">60</text>
<text transform="translate(20.5 359.0) scale(0.92 1)" font-size="11.2" text-anchor="middle" fill="#333" stroke="#333" stroke-width=".25">-75</text>
<text transform="translate(378 358.5) scale(0.92 1)" font-size="11.2" text-anchor="middle" fill="#333" stroke="#333" stroke-width=".25">75</text>
<text transform="translate(14.6 407.5) scale(0.92 1)" font-size="11.2" text-anchor="middle" fill="#333" stroke="#333" stroke-width=".25">-90</text>
<text transform="translate(384 406.6) scale(0.92 1)" font-size="11.2" text-anchor="middle" fill="#333" stroke="#333" stroke-width=".25">90</text>
<text transform="translate(386.3 418.2) scale(0.92 1)" font-size="11.2" text-anchor="middle" fill="#333" stroke="#333" stroke-width=".25">XY</text>
<text transform="translate(23.4 455.5) scale(0.92 1)" font-size="11.2" text-anchor="middle" fill="#333" stroke="#333" stroke-width=".25">-105</text>
<text transform="translate(381 455.1) scale(0.92 1)" font-size="11.2" text-anchor="middle" fill="#333" stroke="#333" stroke-width=".25">105</text>
<text transform="translate(42.7 501.9) scale(0.92 1)" font-size="11.2" text-anchor="middle" fill="#333" stroke="#333" stroke-width=".25">-120</text>
<text transform="translate(361.5 501.5) scale(0.92 1)" font-size="11.2" text-anchor="middle" fill="#333" stroke="#333" stroke-width=".25">120</text>
<text transform="translate(71.5 542.2) scale(0.92 1)" font-size="11.2" text-anchor="middle" fill="#333" stroke="#333" stroke-width=".25">-135</text>
<text transform="translate(332.5 542.0) scale(0.92 1)" font-size="11.2" text-anchor="middle" fill="#333" stroke="#333" stroke-width=".25">135</text>
<text transform="translate(109.9 571.7) scale(0.92 1)" font-size="11.2" text-anchor="middle" fill="#333" stroke="#333" stroke-width=".25">-150</text>
<text transform="translate(294.3 571.7) scale(0.92 1)" font-size="11.2" text-anchor="middle" fill="#333" stroke="#333" stroke-width=".25">150</text>
<text transform="translate(156.2 590.6) scale(0.92 1)" font-size="11.2" text-anchor="middle" fill="#333" stroke="#333" stroke-width=".25">-165</text>
<text transform="translate(249.6 590.6) scale(0.92 1)" font-size="11.2" text-anchor="middle" fill="#333" stroke="#333" stroke-width=".25">165</text>
<text transform="translate(203.3 597.0) scale(0.92 1)" font-size="11.2" text-anchor="middle" fill="#333" stroke="#333" stroke-width=".25">-180</text>
<text transform="translate(180.5 227.6) scale(0.92 1)" font-size="11.2" text-anchor="start" fill="#3a3a3a" stroke="#3a3a3a" stroke-width=".25">3</text>
<text transform="translate(180.5 245.6) scale(0.92 1)" font-size="11.2" text-anchor="start" fill="#3a3a3a" stroke="#3a3a3a" stroke-width=".25">0</text>
<text transform="translate(181 263.6) scale(0.92 1)" font-size="11.2" text-anchor="start" fill="#3a3a3a" stroke="#3a3a3a" stroke-width=".25">-3</text>
<text transform="translate(181 281.6) scale(0.92 1)" font-size="11.2" text-anchor="start" fill="#3a3a3a" stroke="#3a3a3a" stroke-width=".25">-6</text>
<text transform="translate(181 299.6) scale(0.92 1)" font-size="11.2" text-anchor="start" fill="#3a3a3a" stroke="#3a3a3a" stroke-width=".25">-9</text>
<text transform="translate(181 317.6) scale(0.92 1)" font-size="11.2" text-anchor="start" fill="#3a3a3a" stroke="#3a3a3a" stroke-width=".25">-12</text>
<text transform="translate(181 335.6) scale(0.92 1)" font-size="11.2" text-anchor="start" fill="#3a3a3a" stroke="#3a3a3a" stroke-width=".25">-15</text>
<text transform="translate(181 353.6) scale(0.92 1)" font-size="11.2" text-anchor="start" fill="#3a3a3a" stroke="#3a3a3a" stroke-width=".25">-18</text>
<text transform="translate(181 371.6) scale(0.92 1)" font-size="11.2" text-anchor="start" fill="#3a3a3a" stroke="#3a3a3a" stroke-width=".25">-21</text>
<text transform="translate(181 389.6) scale(0.92 1)" font-size="11.2" text-anchor="start" fill="#3a3a3a" stroke="#3a3a3a" stroke-width=".25">-24</text>
<text transform="translate(181 407.6) scale(0.92 1)" font-size="11.2" text-anchor="start" fill="#3a3a3a" stroke="#3a3a3a" stroke-width=".25">-27</text>
<text x="10.5" y="553.1" font-size="11.7" text-anchor="start" fill="#4aa84a" stroke="#4aa84a" stroke-width=".3" textLength="38.3" lengthAdjust="spacingAndGlyphs">Tot-gain</text>
<text x="10.5" y="567" font-size="11.7" text-anchor="start" fill="#e05a5a" stroke="#e05a5a" stroke-width=".3" textLength="47.2" lengthAdjust="spacingAndGlyphs">Lhcp-gain</text>
<text x="10.5" y="581" font-size="11.7" text-anchor="start" fill="#5a5ae0" stroke="#5a5ae0" stroke-width=".3" textLength="49.5" lengthAdjust="spacingAndGlyphs">Rhcp-gain</text>
<text x="10.5" y="597.3" font-size="12" text-anchor="start" fill="#1a1a1a" stroke="#1a1a1a" stroke-width=".3" font-weight="bold" textLength="43.1" lengthAdjust="spacingAndGlyphs">Phi= 40</text>
<text x="390.2" y="553.1" font-size="11.7" text-anchor="end" fill="#4aa84a" stroke="#4aa84a" stroke-width=".3" textLength="87" lengthAdjust="spacingAndGlyphs">-999 &lt; dBic &lt; 0.69</text>
<text x="390.2" y="567" font-size="11.7" text-anchor="end" fill="#e05a5a" stroke="#e05a5a" stroke-width=".3" textLength="83" lengthAdjust="spacingAndGlyphs">-999 &lt; dBic &lt; -18</text>
<text x="390.2" y="581" font-size="11.7" text-anchor="end" fill="#5a5ae0" stroke="#5a5ae0" stroke-width=".3" textLength="87" lengthAdjust="spacingAndGlyphs">-999 &lt; dBic &lt; 0.67</text>
<text x="390.2" y="597.3" font-size="12" text-anchor="end" fill="#1a1a1a" stroke="#1a1a1a" stroke-width=".3" font-weight="bold" textLength="98.3" lengthAdjust="spacingAndGlyphs">Max gain The:55</text>
</g>
<rect x="402.5" y="199" width="398" height="400" fill="#03036a"/>
<g clip-path="url(#pan)">
<g fill="none" stroke-linejoin="round" stroke-linecap="round">
<path d="M470 296.6L507.5 302" stroke="#303c34" stroke-width="3.4" opacity=".85"/>
<path d="M466.5 297L497 317" stroke="#d6d6de" stroke-width="4"/>
<path d="M466.5 296.5L497 316.5" stroke="#f2f2f6" stroke-width="1.6"/>
<path d="M674 281L685 265.5L738 327.5L750.4 411L739 411.5" stroke="#a8a8bc" stroke-width="5.4"/>
<path d="M674 281L685 265.5L738 327.5L750.4 411L739 411.5" stroke="#dcdce6" stroke-width="2.2" transform="translate(-.6,-.6)"/>
<path d="M490 446L448.5 460L426.5 495L484 500" stroke="#9a9aa2" stroke-width="5.6"/>
<path d="M490 446L448.5 460L426.5 495L484 500" stroke="#cdcdd2" stroke-width="2.4" transform="translate(-.3,-.9)"/>
<path d="M632.4 533L644.6 590" stroke="#b8b8c8" stroke-width="5.5"/>
</g>
<g filter="url(#b1)"><g clip-path="url(#sil)"><rect x="440" y="240" width="340" height="330" fill="#ff2a60"/><ellipse cx="607.5" cy="502.7" rx="0.5" ry="0.4" fill="#f0f010" transform="rotate(6.00 607.5 502.7)"/><ellipse cx="607.5" cy="502.6" rx="3.8" ry="2.6" fill="#f0ee10" transform="rotate(6.00 607.5 502.6)"/><ellipse cx="607.5" cy="502.5" rx="7.1" ry="4.9" fill="#f0ec10" transform="rotate(6.00 607.5 502.5)"/><ellipse cx="607.5" cy="502.3" rx="10.4" ry="7.2" fill="#f0ea10" transform="rotate(6.00 607.5 502.3)"/><ellipse cx="607.5" cy="502.1" rx="13.7" ry="9.4" fill="#f0e710" transform="rotate(6.00 607.5 502.1)"/><ellipse cx="607.5" cy="501.9" rx="17.0" ry="11.7" fill="#f0e410" transform="rotate(6.00 607.5 501.9)"/><ellipse cx="607.5" cy="501.6" rx="20.2" ry="13.9" fill="#f0e110" transform="rotate(6.00 607.5 501.6)"/><ellipse cx="607.5" cy="501.3" rx="23.5" ry="16.2" fill="#f0dd10" transform="rotate(6.00 607.5 501.3)"/><ellipse cx="607.5" cy="500.9" rx="26.7" ry="18.4" fill="#f0d910" transform="rotate(6.00 607.5 500.9)"/><ellipse cx="607.5" cy="500.4" rx="29.9" ry="20.7" fill="#f0d410" transform="rotate(6.00 607.5 500.4)"/><ellipse cx="607.5" cy="499.8" rx="33.2" ry="22.9" fill="#f0cf10" transform="rotate(6.00 607.5 499.8)"/><ellipse cx="607.5" cy="499.2" rx="36.3" ry="25.1" fill="#f0c910" transform="rotate(6.00 607.5 499.2)"/><ellipse cx="607.5" cy="498.6" rx="39.5" ry="27.3" fill="#f0c310" transform="rotate(6.00 607.5 498.6)"/><ellipse cx="607.5" cy="498.0" rx="42.7" ry="29.4" fill="#f0be10" transform="rotate(6.00 607.5 498.0)"/><ellipse cx="607.5" cy="497.2" rx="45.8" ry="31.6" fill="#f0b710" transform="rotate(6.00 607.5 497.2)"/><ellipse cx="607.5" cy="496.4" rx="48.9" ry="33.7" fill="#f0af10" transform="rotate(6.00 607.5 496.4)"/><ellipse cx="607.5" cy="495.5" rx="52.0" ry="35.9" fill="#f0a810" transform="rotate(6.00 607.5 495.5)"/><ellipse cx="607.5" cy="494.6" rx="55.0" ry="38.0" fill="#f0a010" transform="rotate(6.00 607.5 494.6)"/><ellipse cx="607.5" cy="493.6" rx="58.0" ry="40.0" fill="#f09910" transform="rotate(6.00 607.5 493.6)"/><ellipse cx="607.5" cy="492.6" rx="61.0" ry="42.1" fill="#f09210" transform="rotate(6.00 607.5 492.6)"/><ellipse cx="607.5" cy="491.6" rx="63.9" ry="44.1" fill="#f08d10" transform="rotate(6.00 607.5 491.6)"/><ellipse cx="607.5" cy="490.5" rx="66.8" ry="46.1" fill="#f08810" transform="rotate(6.00 607.5 490.5)"/><ellipse cx="607.5" cy="489.4" rx="69.7" ry="48.1" fill="#f08510" transform="rotate(6.00 607.5 489.4)"/><ellipse cx="607.5" cy="488.2" rx="72.6" ry="50.1" fill="#f08110" transform="rotate(6.00 607.5 488.2)"/><ellipse cx="607.5" cy="486.9" rx="75.4" ry="52.0" fill="#f07d10" transform="rotate(6.00 607.5 486.9)"/><ellipse cx="607.5" cy="485.6" rx="78.2" ry="53.9" fill="#f07910" transform="rotate(6.00 607.5 485.6)"/><ellipse cx="607.5" cy="484.3" rx="80.9" ry="55.8" fill="#f07410" transform="rotate(6.00 607.5 484.3)"/><ellipse cx="607.5" cy="482.9" rx="83.6" ry="57.7" fill="#f06e10" transform="rotate(6.00 607.5 482.9)"/><ellipse cx="607.5" cy="481.5" rx="86.2" ry="59.5" fill="#ee6415" transform="rotate(6.00 607.5 481.5)"/><ellipse cx="607.5" cy="480.1" rx="88.8" ry="61.3" fill="#eb571e" transform="rotate(6.00 607.5 480.1)"/><ellipse cx="607.5" cy="478.6" rx="91.4" ry="63.0" fill="#e74929" transform="rotate(6.00 607.5 478.6)"/><ellipse cx="607.5" cy="477.0" rx="93.9" ry="64.8" fill="#e33d34" transform="rotate(6.00 607.5 477.0)"/><ellipse cx="607.5" cy="475.4" rx="96.3" ry="66.4" fill="#e1333c" transform="rotate(6.00 607.5 475.4)"/><ellipse cx="607.5" cy="473.8" rx="98.7" ry="68.1" fill="#e03040" transform="rotate(6.00 607.5 473.8)"/><ellipse cx="607.5" cy="472.1" rx="101.0" ry="69.7" fill="#e02f42" transform="rotate(6.00 607.5 472.1)"/><ellipse cx="607.5" cy="470.4" rx="103.3" ry="71.3" fill="#e12e44" transform="rotate(6.00 607.5 470.4)"/><ellipse cx="607.5" cy="468.7" rx="105.5" ry="72.8" fill="#e22d45" transform="rotate(6.00 607.5 468.7)"/><ellipse cx="607.5" cy="466.9" rx="107.7" ry="74.3" fill="#e22d46" transform="rotate(6.00 607.5 466.9)"/><ellipse cx="607.5" cy="465.1" rx="109.8" ry="75.8" fill="#e32d47" transform="rotate(6.00 607.5 465.1)"/><ellipse cx="607.5" cy="463.2" rx="111.8" ry="77.2" fill="#e42c48" transform="rotate(6.00 607.5 463.2)"/><ellipse cx="607.5" cy="461.3" rx="113.8" ry="78.5" fill="#e52b49" transform="rotate(6.00 607.5 461.3)"/><ellipse cx="607.5" cy="459.4" rx="115.7" ry="79.8" fill="#e62b4a" transform="rotate(6.00 607.5 459.4)"/><ellipse cx="607.5" cy="457.4" rx="117.5" ry="81.1" fill="#e62a4b" transform="rotate(6.00 607.5 457.4)"/><ellipse cx="607.5" cy="455.4" rx="119.3" ry="82.3" fill="#e72a4c" transform="rotate(6.00 607.5 455.4)"/><ellipse cx="607.5" cy="453.3" rx="121.0" ry="83.5" fill="#e8294d" transform="rotate(6.00 607.5 453.3)"/><ellipse cx="607.5" cy="451.3" rx="122.6" ry="84.6" fill="#e9294f" transform="rotate(6.00 607.5 451.3)"/><ellipse cx="607.5" cy="449.2" rx="124.1" ry="85.7" fill="#ea2850" transform="rotate(6.00 607.5 449.2)"/><ellipse cx="607.5" cy="447.1" rx="125.6" ry="86.7" fill="#eb2751" transform="rotate(6.00 607.5 447.1)"/><ellipse cx="607.5" cy="445.0" rx="127.0" ry="87.7" fill="#ec2753" transform="rotate(6.00 607.5 445.0)"/><ellipse cx="607.5" cy="442.8" rx="128.4" ry="88.6" fill="#ed2655" transform="rotate(6.00 607.5 442.8)"/><ellipse cx="607.5" cy="440.6" rx="129.7" ry="89.5" fill="#ee2657" transform="rotate(6.00 607.5 440.6)"/><ellipse cx="607.5" cy="438.4" rx="130.9" ry="90.3" fill="#ef2559" transform="rotate(6.00 607.5 438.4)"/><ellipse cx="607.5" cy="436.2" rx="132.0" ry="91.1" fill="#f0245b" transform="rotate(6.00 607.5 436.2)"/><ellipse cx="607.5" cy="433.9" rx="132.9" ry="91.7" fill="#f0245d" transform="rotate(6.00 607.5 433.9)"/><ellipse cx="607.5" cy="431.6" rx="133.8" ry="92.3" fill="#f1235e" transform="rotate(6.00 607.5 431.6)"/><ellipse cx="607.5" cy="429.4" rx="134.6" ry="92.9" fill="#f22360" transform="rotate(6.00 607.5 429.4)"/><ellipse cx="607.5" cy="427.0" rx="135.4" ry="93.4" fill="#f32261" transform="rotate(6.00 607.5 427.0)"/><ellipse cx="607.5" cy="424.7" rx="136.1" ry="93.9" fill="#f42263" transform="rotate(6.00 607.5 424.7)"/><ellipse cx="607.5" cy="422.4" rx="136.7" ry="94.3" fill="#f42165" transform="rotate(6.00 607.5 422.4)"/><ellipse cx="607.5" cy="420.0" rx="137.2" ry="94.7" fill="#f52166" transform="rotate(6.00 607.5 420.0)"/><ellipse cx="607.5" cy="417.7" rx="137.7" ry="95.0" fill="#f62068" transform="rotate(6.00 607.5 417.7)"/><ellipse cx="607.5" cy="415.4" rx="138.1" ry="95.3" fill="#f71f6a" transform="rotate(6.00 607.5 415.4)"/><ellipse cx="607.5" cy="413.0" rx="138.4" ry="95.5" fill="#f81f6c" transform="rotate(6.00 607.5 413.0)"/><ellipse cx="607.5" cy="410.7" rx="138.8" ry="95.8" fill="#f91e6e" transform="rotate(6.00 607.5 410.7)"/><ellipse cx="607.5" cy="408.3" rx="139.1" ry="96.0" fill="#fa1e70" transform="rotate(6.00 607.5 408.3)"/><ellipse cx="607.5" cy="405.9" rx="139.3" ry="96.1" fill="#fa1d73" transform="rotate(6.00 607.5 405.9)"/><ellipse cx="607.5" cy="403.6" rx="139.5" ry="96.2" fill="#fb1c75" transform="rotate(6.00 607.5 403.6)"/><ellipse cx="607.5" cy="401.2" rx="139.5" ry="96.3" fill="#fc1c78" transform="rotate(6.00 607.5 401.2)"/><ellipse cx="607.5" cy="398.9" rx="139.4" ry="96.3" fill="#fd1c7c" transform="rotate(6.00 607.5 398.9)"/><ellipse cx="607.5" cy="396.7" rx="139.3" ry="96.3" fill="#fe1b80" transform="rotate(6.00 607.5 396.7)"/><ellipse cx="607.5" cy="394.4" rx="139.0" ry="96.2" fill="#ff1b85" transform="rotate(6.00 607.5 394.4)"/><ellipse cx="607.5" cy="392.1" rx="138.8" ry="96.1" fill="#ff1a8a" transform="rotate(6.00 607.5 392.1)"/><ellipse cx="607.5" cy="389.9" rx="138.5" ry="96.1" fill="#ff1991" transform="rotate(6.00 607.5 389.9)"/><ellipse cx="607.5" cy="387.6" rx="138.3" ry="96.0" fill="#ff189b" transform="rotate(6.00 607.5 387.6)"/><ellipse cx="607.5" cy="385.3" rx="138.0" ry="95.9" fill="#ff15a6" transform="rotate(6.00 607.5 385.3)"/><ellipse cx="607.5" cy="383.0" rx="137.7" ry="95.8" fill="#ff12b3" transform="rotate(6.00 607.5 383.0)"/><ellipse cx="607.5" cy="380.8" rx="137.4" ry="95.6" fill="#ff10c0" transform="rotate(6.00 607.5 380.8)"/><ellipse cx="607.5" cy="378.5" rx="137.0" ry="95.5" fill="#ff0dcc" transform="rotate(6.00 607.5 378.5)"/><ellipse cx="607.5" cy="376.3" rx="136.6" ry="95.3" fill="#ff0ad7" transform="rotate(6.00 607.5 376.3)"/><ellipse cx="607.5" cy="374.0" rx="136.1" ry="95.0" fill="#ff08e0" transform="rotate(6.00 607.5 374.0)"/><ellipse cx="607.5" cy="371.8" rx="135.5" ry="94.7" fill="#ff06e7" transform="rotate(6.00 607.5 371.8)"/><ellipse cx="607.5" cy="369.6" rx="134.7" ry="94.2" fill="#ff04ee" transform="rotate(6.00 607.5 369.6)"/><ellipse cx="607.5" cy="367.4" rx="133.7" ry="93.6" fill="#ff03f5" transform="rotate(6.00 607.5 367.4)"/><ellipse cx="607.5" cy="365.3" rx="132.6" ry="93.0" fill="#ff01fb" transform="rotate(6.00 607.5 365.3)"/><ellipse cx="607.5" cy="363.1" rx="131.4" ry="92.2" fill="#ff00fe" transform="rotate(6.00 607.5 363.1)"/><ellipse cx="607.5" cy="361.1" rx="130.2" ry="91.5" fill="#ff00ff" transform="rotate(6.00 607.5 361.1)"/><ellipse cx="607.5" cy="359.0" rx="128.8" ry="90.6" fill="#ff00ff" transform="rotate(6.00 607.5 359.0)"/><ellipse cx="607.5" cy="357.0" rx="127.3" ry="89.6" fill="#ff00ff" transform="rotate(6.00 607.5 357.0)"/><ellipse cx="607.5" cy="355.0" rx="125.6" ry="88.6" fill="#ff00ff" transform="rotate(5.99 607.5 355.0)"/><ellipse cx="607.5" cy="353.1" rx="123.8" ry="87.4" fill="#ff00ff" transform="rotate(5.88 607.5 353.1)"/><ellipse cx="607.5" cy="351.2" rx="122.0" ry="86.3" fill="#ff00ff" transform="rotate(5.69 607.5 351.2)"/><ellipse cx="607.5" cy="349.3" rx="120.2" ry="85.1" fill="#ff00ff" transform="rotate(5.42 607.5 349.3)"/><ellipse cx="607.5" cy="347.5" rx="118.2" ry="83.8" fill="#ff02f9" transform="rotate(5.09 607.5 347.5)"/><ellipse cx="607.5" cy="345.6" rx="116.1" ry="82.3" fill="#ff04ec" transform="rotate(4.72 607.5 345.6)"/><ellipse cx="607.5" cy="343.8" rx="114.0" ry="80.9" fill="#ff08dd" transform="rotate(4.32 607.5 343.8)"/><ellipse cx="607.5" cy="342.0" rx="111.9" ry="79.4" fill="#ff0bc6" transform="rotate(3.90 607.5 342.0)"/><ellipse cx="607.5" cy="340.2" rx="109.7" ry="77.9" fill="#ff0fa6" transform="rotate(3.46 607.5 340.2)"/><ellipse cx="607.5" cy="338.5" rx="107.5" ry="76.4" fill="#ff1486" transform="rotate(3.03 607.5 338.5)"/><ellipse cx="607.5" cy="336.8" rx="104.7" ry="74.4" fill="#ff1966" transform="rotate(2.61 607.5 336.8)"/><ellipse cx="607.5" cy="335.2" rx="101.8" ry="72.4" fill="#ff1f44" transform="rotate(2.21 607.5 335.2)"/><ellipse cx="607.5" cy="333.6" rx="98.9" ry="70.5" fill="#ff2628" transform="rotate(1.84 607.5 333.6)"/><ellipse cx="607.5" cy="332.1" rx="96.0" ry="68.5" fill="#ff2e19" transform="rotate(1.49 607.5 332.1)"/><ellipse cx="607.5" cy="330.7" rx="93.2" ry="66.5" fill="#ff3b16" transform="rotate(1.18 607.5 330.7)"/><ellipse cx="607.5" cy="329.2" rx="90.3" ry="64.5" fill="#ff4e14" transform="rotate(0.89 607.5 329.2)"/><ellipse cx="607.5" cy="327.8" rx="87.4" ry="62.5" fill="#ff6613" transform="rotate(0.64 607.5 327.8)"/><ellipse cx="607.5" cy="326.5" rx="84.6" ry="60.6" fill="#ff7f12" transform="rotate(0.44 607.5 326.5)"/><ellipse cx="607.5" cy="325.3" rx="81.7" ry="58.6" fill="#ff9710" transform="rotate(0.29 607.5 325.3)"/><ellipse cx="607.5" cy="324.3" rx="78.8" ry="56.5" fill="#ffb10e" transform="rotate(0.19 607.5 324.3)"/><ellipse cx="607.5" cy="323.4" rx="75.7" ry="54.5" fill="#ffcf0c" transform="rotate(0.11 607.5 323.4)"/><ellipse cx="607.5" cy="322.6" rx="72.7" ry="52.3" fill="#ffe80b" transform="rotate(0.06 607.5 322.6)"/><ellipse cx="607.5" cy="321.9" rx="69.6" ry="50.2" fill="#fff00a"/><ellipse cx="607.5" cy="321.3" rx="66.5" ry="48.1" fill="#edf012"/><ellipse cx="607.5" cy="320.9" rx="63.3" ry="45.9" fill="#ccf01f"/><ellipse cx="607.5" cy="320.7" rx="60.2" ry="43.7" fill="#9bed29"/><ellipse cx="607.5" cy="320.5" rx="57.0" ry="41.5" fill="#62e838"/><g clip-path="url(#rimc)"><ellipse cx="607.5" cy="320.5" rx="57.0" ry="41.5" fill="#62e838"/><ellipse cx="607.5" cy="320.6" rx="55.5" ry="40.5" fill="#4be54b"/><ellipse cx="607.5" cy="320.8" rx="54.0" ry="39.5" fill="#34e268"/><ellipse cx="607.5" cy="321.0" rx="52.5" ry="38.5" fill="#24e087"/><ellipse cx="607.5" cy="321.3" rx="51.1" ry="37.5" fill="#1ce19e"/><ellipse cx="607.5" cy="321.6" rx="49.7" ry="36.5" fill="#15e4b5"/><ellipse cx="607.5" cy="322.0" rx="48.2" ry="35.5" fill="#11e7c9"/><ellipse cx="607.5" cy="322.4" rx="46.8" ry="34.5" fill="#10e8da"/><ellipse cx="607.5" cy="322.9" rx="45.5" ry="33.6" fill="#10e5e8"/><ellipse cx="607.5" cy="323.3" rx="44.1" ry="32.6" fill="#10def5"/><ellipse cx="607.5" cy="323.8" rx="42.8" ry="31.7" fill="#10d5fe"/><ellipse cx="607.5" cy="324.3" rx="41.4" ry="30.8" fill="#10cbff"/><ellipse cx="607.5" cy="324.8" rx="40.0" ry="29.8" fill="#10b8ff"/><ellipse cx="607.5" cy="325.3" rx="38.7" ry="28.9" fill="#10a2ff"/><ellipse cx="607.5" cy="325.7" rx="37.3" ry="28.0" fill="#108dff"/><ellipse cx="607.5" cy="326.3" rx="36.0" ry="27.1" fill="#0f7bff"/><ellipse cx="607.5" cy="326.9" rx="34.7" ry="26.2" fill="#0d69ff"/><ellipse cx="607.5" cy="327.4" rx="33.4" ry="25.3" fill="#0a5aff"/><ellipse cx="607.5" cy="328.0" rx="32.1" ry="24.4" fill="#084dff"/><ellipse cx="607.5" cy="328.4" rx="30.8" ry="23.4" fill="#0844fe"/><ellipse cx="607.5" cy="328.9" rx="29.4" ry="22.5" fill="#083dfc"/><ellipse cx="607.5" cy="329.3" rx="28.0" ry="21.5" fill="#0836fa"/><ellipse cx="607.5" cy="329.7" rx="26.6" ry="20.6" fill="#0830f7"/><ellipse cx="607.5" cy="330.2" rx="25.2" ry="19.6" fill="#082af5"/><ellipse cx="607.5" cy="330.7" rx="23.9" ry="18.7" fill="#0824f2"/><ellipse cx="607.5" cy="331.2" rx="22.6" ry="17.8" fill="#0821ef"/><ellipse cx="607.5" cy="331.8" rx="21.3" ry="16.9" fill="#081fed"/><ellipse cx="607.5" cy="332.4" rx="20.1" ry="16.1" fill="#081deb"/><ellipse cx="607.5" cy="333.1" rx="18.9" ry="15.3" fill="#071ce9"/><ellipse cx="607.5" cy="333.8" rx="17.8" ry="14.5" fill="#071ae7"/><ellipse cx="607.5" cy="334.6" rx="16.6" ry="13.7" fill="#0719e5"/><ellipse cx="607.5" cy="335.3" rx="15.5" ry="12.9" fill="#0618e3"/><ellipse cx="607.5" cy="336.1" rx="14.3" ry="12.1" fill="#0617e1"/><ellipse cx="607.5" cy="336.8" rx="13.2" ry="11.3" fill="#0617df"/><ellipse cx="607.5" cy="337.5" rx="12.0" ry="10.5" fill="#0616de"/><ellipse cx="607.5" cy="338.2" rx="10.8" ry="9.7" fill="#0615dd"/><ellipse cx="607.5" cy="338.8" rx="9.6" ry="8.8" fill="#0615db"/><ellipse cx="607.5" cy="339.5" rx="8.4" ry="8.0" fill="#0614da"/><ellipse cx="607.5" cy="340.2" rx="7.2" ry="7.2" fill="#0614d9"/><ellipse cx="607.5" cy="340.9" rx="6.0" ry="6.4" fill="#0613d8"/><ellipse cx="607.5" cy="341.5" rx="4.8" ry="5.5" fill="#0613d7"/><ellipse cx="607.5" cy="342.2" rx="3.6" ry="4.7" fill="#0612d6"/><ellipse cx="607.5" cy="342.9" rx="2.4" ry="3.9" fill="#0612d5"/><ellipse cx="607.5" cy="343.5" rx="1.2" ry="3.0" fill="#0612d5"/></g><rect x="440" y="240" width="340" height="330" fill="url(#cr)"/><rect x="440" y="240" width="340" height="330" fill="url(#og)"/><rect x="440" y="240" width="340" height="330" fill="url(#dr)"/><rect x="440" y="240" width="340" height="330" fill="url(#sh)"/><rect x="440" y="240" width="340" height="330" fill="url(#hl)"/><ellipse cx="597" cy="336" rx="35" ry="17" fill="url(#dk)"/></g></g>
<g fill="none" stroke-linejoin="round" stroke-linecap="round">
<path d="M484 500L524 463.5" stroke="#8e8e94" stroke-width="5.6" stroke-linecap="butt"/><path d="M484 499L524 462.5" stroke="#b9b9be" stroke-width="2.2" stroke-linecap="butt"/>
<path d="M732.5 421L789.3 433.3L741.8 547.3L644.6 590L632.4 535.5" stroke="#b0b0c4" stroke-width="6"/>
<path d="M732.5 421L789.3 433.3L741.8 547.3L644.6 590L632.4 535.5" stroke="#eaeaf1" stroke-width="2.8" transform="translate(-.5,-.6)"/>
</g>
<g fill="none" stroke-linecap="round" stroke-linejoin="round"><path d="M606.3 347.5V333" stroke="#4cc8dc" stroke-width="1.1" opacity=".85"/><path d="M606.3 324.2L603.7 333.6Q606.3 335 608.9 333.6Z" fill="#36c466" stroke="none"/><path d="M603.6 305.5Q606.5 304.6 608.4 308.2L604 313.4L608.8 316.8" stroke="#52dcb4" stroke-width="1.15" opacity=".8"/></g>
<rect x="406" y="238.8" width="5.6" height="322" fill="url(#cb)"/>
<g font-family='"Liberation Sans", Arial, sans-serif' font-size="8.6" fill="#bcbce4">
<text x="412.5" y="230" fill="#7f7fc0" font-size="7.5">dBic</text>
<text transform="translate(416.4 241.3) scale(.88 1)">0.71</text>
<text transform="translate(416.4 261.3) scale(.88 1)">0.54</text>
<text transform="translate(416.4 281.3) scale(.88 1)">0.36</text>
<text transform="translate(416.4 301.3) scale(.88 1)">0.17</text>
<text transform="translate(420.4 321.3) scale(.88 1)">-0</text>
<text transform="translate(417.4 341.3) scale(.88 1)">-0.2</text>
<text transform="translate(417.4 361.3) scale(.88 1)">-0.5</text>
<text transform="translate(417.4 381.3) scale(.88 1)">-0.7</text>
<text transform="translate(418.2 401.3) scale(.88 1)">-1</text>
<text transform="translate(417.4 421.3) scale(.88 1)">-1.3</text>
<text transform="translate(417.4 441.3) scale(.88 1)">-1.7</text>
<text transform="translate(417.4 461.3) scale(.88 1)">-2.1</text>
<text transform="translate(417.4 481.3) scale(.88 1)">-2.5</text>
<text transform="translate(417.4 501.3) scale(.88 1)">-3.1</text>
<text transform="translate(417.4 521.3) scale(.88 1)">-3.9</text>
<text transform="translate(417.4 541.3) scale(.88 1)">-5.1</text>
<text transform="translate(418.2 561.3) scale(.88 1)">-15</text>
</g>
</g>
</svg>
</body></html>
